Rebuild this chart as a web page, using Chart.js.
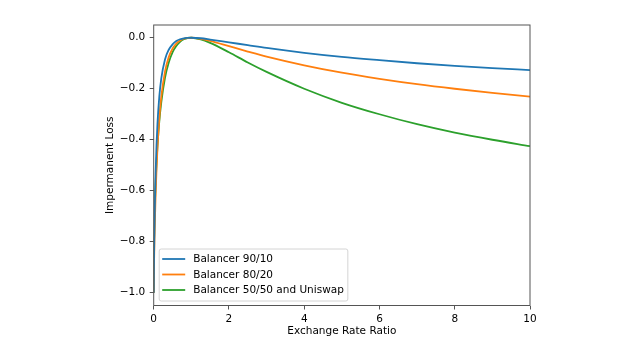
<!DOCTYPE html>
<html lang="en">
  <head>
    <meta charset="UTF-8" />
    <title>Impermanent Loss</title>
    <script src="https://cdn.jsdelivr.net/npm/chart.js@4"></script>
    <style>
      body { margin: 0; background: #fff; }
    </style>
  </head>
  <body>
    <canvas id="myChart" width="640" height="361"></canvas>

    <script>
      // exchange rate ratio (x) and loss for each pool
      const ratios = [0, 0.005, 0.01, 0.02, 0.03, 0.05, 0.075, 0.1, 0.15, 0.2, 0.3, 0.4, 0.5, 0.6, 0.7, 0.8, 0.9, 1,
                      1.25, 1.5, 2, 2.5, 3, 4, 5, 6, 7, 8, 9, 10];
      const loss9010 = [-1, -0.919, -0.855, -0.749, -0.665, -0.535, -0.420, -0.337, -0.229, -0.161, -0.085, -0.047, -0.026,
                        -0.013, -0.006, -0.002, -0.0005, 0, -0.002, -0.007, -0.018, -0.029, -0.040, -0.059, -0.075,
                        -0.088, -0.100, -0.110, -0.119, -0.127];
      const loss8020 = [-1, -0.929, -0.879, -0.798, -0.730, -0.621, -0.516, -0.434, -0.315, -0.234, -0.133, -0.076, -0.043,
                        -0.023, -0.011, -0.004, -0.001, 0, -0.004, -0.012, -0.033, -0.054, -0.074, -0.108, -0.137,
                        -0.161, -0.182, -0.200, -0.216, -0.231];
      const loss5050 = [-1, -0.859, -0.802, -0.723, -0.664, -0.574, -0.491, -0.425, -0.326, -0.255, -0.157, -0.097, -0.057,
                        -0.032, -0.016, -0.006, -0.001, 0, -0.006, -0.020, -0.057, -0.097, -0.134, -0.200, -0.255,
                        -0.300, -0.339, -0.372, -0.400, -0.425];
      const seriesNames = ['Balancer 90/10', 'Balancer 80/20', 'Balancer 50/50 and Uniswap'];
      const seriesColors = ['#1f77b4', '#ff7f0e', '#2ca02c'];
      const xTicks = [0, 2, 4, 6, 8, 10];
      const yTicks = [-1.0, -0.8, -0.6, -0.4, -0.2, 0.0];

      const FONT = 'DejaVu Sans';
      const AXIS = '#555';

      function pairs(ys) {
        return ratios.map((x, i) => ({ x: x, y: ys[i] }));
      }

      // top/right spines + legend inside the axes, like matplotlib
      const boxPlugin = {
        id: 'boxPlugin',
        afterDraw(chart) {
          const ctx = chart.ctx;
          const a = chart.chartArea;
          ctx.save();
          ctx.strokeStyle = AXIS;
          ctx.lineWidth = 1;
          ctx.strokeRect(a.left, a.top, a.right - a.left, a.bottom - a.top);

          // legend
          ctx.font = '10.5px "' + FONT + '"';
          let tw = 0;
          seriesNames.forEach(n => { tw = Math.max(tw, ctx.measureText(n).width); });
          const bx = a.left + 5.5, bh = 52;
          const by = a.bottom - 4.5 - bh;
          const bw = 34 + tw + 4;
          ctx.fillStyle = 'rgba(255,255,255,0.8)';
          ctx.strokeStyle = '#d4d4d4';
          ctx.beginPath();
          ctx.roundRect(bx, by, bw, bh, 2);
          ctx.fill();
          ctx.stroke();
          seriesNames.forEach((n, i) => {
            const yy = by + 10 + i * 15.5;
            ctx.strokeStyle = seriesColors[i];
            ctx.lineWidth = 1.8;
            ctx.beginPath();
            ctx.moveTo(bx + 3, yy);
            ctx.lineTo(bx + 26, yy);
            ctx.stroke();
            ctx.fillStyle = '#000';
            ctx.textBaseline = 'middle';
            ctx.fillText(n, bx + 34, yy + 0.5);
          });
          ctx.restore();
        }
      };

      const ctx = document.getElementById('myChart').getContext('2d');
      const myChart = new Chart(ctx, {
        type: 'scatter',
        data: {
          datasets: [loss9010, loss8020, loss5050].map((ys, i) => ({
            label: seriesNames[i],
            data: pairs(ys),
            showLine: true,
            borderColor: seriesColors[i],
            backgroundColor: seriesColors[i],
            borderWidth: 1.8,
            pointRadius: 0,
            cubicInterpolationMode: 'monotone',
            fill: false
          }))
        },
        options: {
          responsive: false,
          animation: false,
          devicePixelRatio: 1,
          layout: { padding: { left: 103.7, right: 110, top: 25, bottom: 23 } },
          plugins: { legend: { display: false }, tooltip: { enabled: false } },
          scales: {
            x: {
              type: 'linear',
              min: 0,
              max: 10,
              afterBuildTicks: s => { s.ticks = xTicks.map(v => ({ value: v })); },
              afterFit: s => { s.height = 32.5; },
              border: { display: false },
              grid: { drawOnChartArea: false, drawTicks: true, tickLength: 4, color: AXIS },
              ticks: {
                padding: 3,
                color: '#000',
                font: { family: FONT, size: 10.5 },
                maxRotation: 0,
                callback: v => String(v)
              },
              title: {
                display: true,
                text: 'Exchange Rate Ratio',
                color: '#000',
                padding: 0,
                font: { family: FONT, size: 10.5 }
              }
            },
            y: {
              type: 'linear',
              min: -1.05,
              max: 0.05,
              afterBuildTicks: s => { s.ticks = yTicks.map(v => ({ value: v })); },
              afterFit: s => { s.width = 50; },
              border: { display: false },
              grid: { drawOnChartArea: false, drawTicks: true, tickLength: 4, color: AXIS },
              ticks: {
                padding: 4.5,
                color: '#000',
                font: { family: FONT, size: 10.5 },
                callback: v => v.toFixed(1).replace('-', '\u2212')
              },
              title: {
                display: true,
                text: 'Impermanent Loss',
                color: '#000',
                padding: 0,
                font: { family: FONT, size: 10.5 }
              }
            }
          }
        },
        plugins: [boxPlugin]
      });
    </script>
  </body>
</html>
